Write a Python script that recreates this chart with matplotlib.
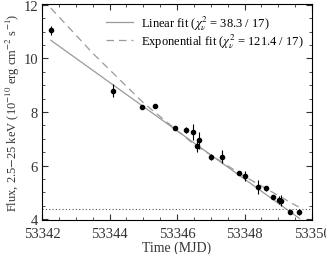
import matplotlib.pyplot as plt
from matplotlib.ticker import MultipleLocator

plt.rcParams['font.family'] = ['Liberation Serif', 'DejaVu Serif']
plt.rcParams['mathtext.fontset'] = 'stix'

# observations
mjd = [53342.26, 53344.10, 53344.95, 53345.34, 53345.93, 53346.27, 53346.48,
       53346.59, 53346.65, 53347.00, 53347.32, 53347.84, 53348.02, 53348.39,
       53348.63, 53348.84, 53349.01, 53349.09, 53349.35, 53349.63]
flux = [11.05, 8.80, 8.19, 8.23, 7.41, 7.33, 7.27, 6.73, 6.94, 6.32, 6.34,
        5.74, 5.62, 5.21, 5.15, 4.83, 4.72, 4.69, 4.26, 4.28]
flux_err = [0.18, 0.25, 0.05, 0.05, 0.05, 0.12, 0.30, 0.22, 0.30, 0.10, 0.25,
            0.05, 0.20, 0.25, 0.10, 0.05, 0.15, 0.20, 0.05, 0.12]

# fits
lin_t = [53342.26, 53349.63]
lin_f = [10.68, 4.03]
exp_t = [53342.26, 53343.5, 53345.0, 53346.5, 53348.0, 53349.6]
exp_f = [11.88, 10.2, 8.35, 6.8, 5.6, 4.46]
baseline = 4.4

fig = plt.figure(figsize=(3.26, 2.55), dpi=100)
ax = fig.add_axes([0.129, 0.133, 0.828, 0.847])

ax.axhline(baseline, color='#555555', ls=(0, (1, 2)), lw=0.8)
ax.plot(lin_t, lin_f, color='#9a9a9a', lw=0.9,
        label=r'Linear fit ($\chi^2_\nu$ = 38.3 / 17)')
ax.plot(exp_t, exp_f, color='#9a9a9a', lw=0.9, ls=(0, (6, 4)),
        label=r'Exponential fit ($\chi^2_\nu$ = 121.4 / 17)')
ax.errorbar(mjd, flux, yerr=flux_err, fmt='o', color='black', ms=3,
            elinewidth=0.8, capsize=0)

ax.set_xlim(53342, 53350)
ax.set_ylim(3.97, 12.03)
ax.xaxis.set_major_locator(MultipleLocator(2))
ax.xaxis.set_minor_locator(MultipleLocator(0.5))
ax.yaxis.set_major_locator(MultipleLocator(2))
ax.yaxis.set_minor_locator(MultipleLocator(0.5))
ax.ticklabel_format(useOffset=False, style='plain', axis='x')
ax.tick_params(which='both', direction='in', top=True, right=True,
               labelsize=10.5, colors='#333333')
ax.tick_params(which='major', length=4)
ax.tick_params(which='minor', length=2)
ax.tick_params(axis='x', pad=5)
ax.tick_params(axis='y', pad=3)
for s in ax.spines.values():
    s.set_linewidth(0.8)

ax.set_xlabel('Time (MJD)', fontsize=10, labelpad=0, color='#333333')
ax.set_ylabel('Flux, 2.5$-$25 keV (10$^{-10}$ erg cm$^{-2}$ s$^{-1}$)',
              fontsize=9, labelpad=1, color='#333333')

ax.legend(loc='upper right', frameon=False, fontsize=9, handlelength=2.2,
          handletextpad=0.6, borderaxespad=0.3, labelspacing=-0.05)

fig.savefig('out.png', dpi=100)
